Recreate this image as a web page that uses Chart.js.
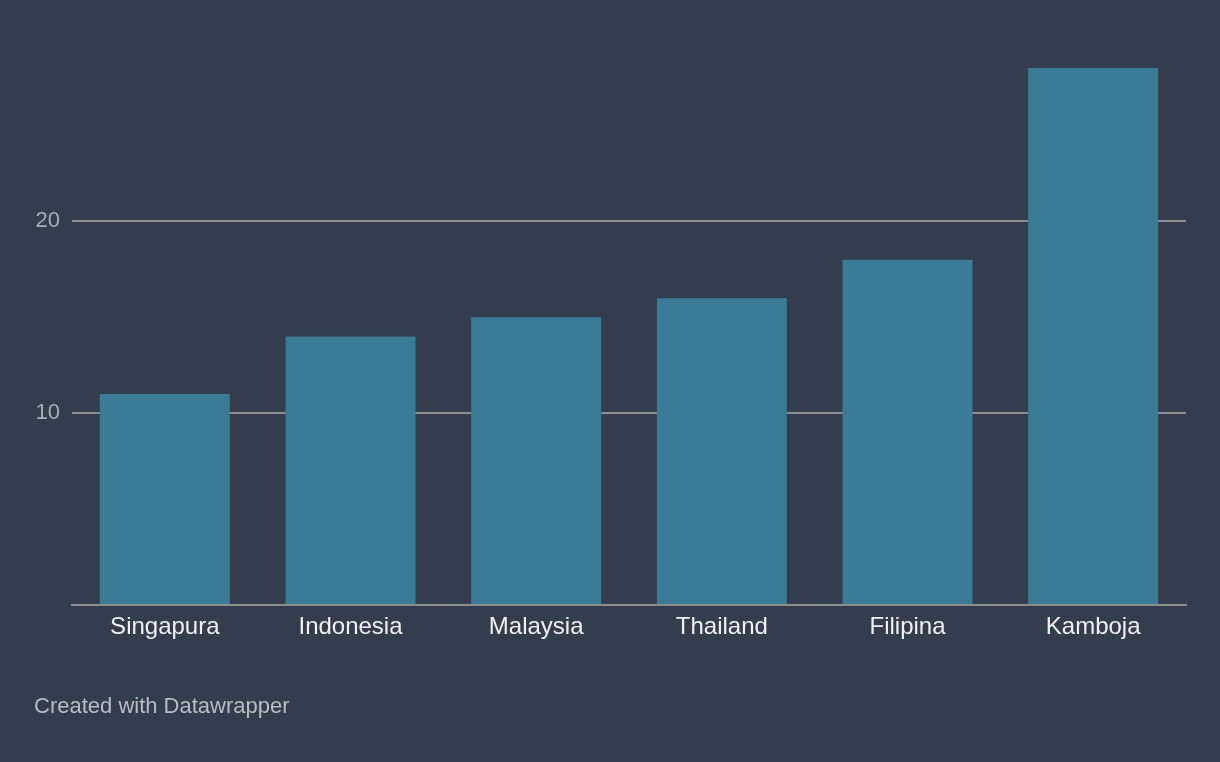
<!DOCTYPE html>
<html>
<head>
<meta charset="utf-8">
<script src="https://cdn.jsdelivr.net/npm/chart.js@4/dist/chart.umd.min.js"></script>
<style>
  html, body { margin: 0; padding: 0; background: #333d4d; }
  #wrap { position: relative; width: 1220px; height: 762px; }
  #footer {
    position: absolute; left: 34px; top: 693px;
    font-family: "Liberation Sans", Arial, sans-serif; font-size: 22px; color: #b9bcc1;
  }
</style>
</head>
<body>
<div id="wrap">
  <canvas id="chart" width="1220" height="762"></canvas>
  <div id="footer">Created with Datawrapper</div>
</div>
<script>
var countries = ['Singapura', 'Indonesia', 'Malaysia', 'Thailand', 'Filipina', 'Kamboja'];
var values = [11, 14, 15, 16, 18, 28];
var yTicks = [0, 10, 20];

(function () {
  var canvas = document.getElementById('chart');
  var font = '"Liberation Sans", Arial, sans-serif';

  new Chart(canvas, {
    type: 'bar',
    data: {
      labels: countries,
      datasets: [{
        data: values,
        backgroundColor: '#3a7b96',
        barPercentage: 0.7,
        categoryPercentage: 1,
      }],
    },
    options: {
      responsive: false,
      animation: false,
      layout: { padding: { top: 68, right: 34, left: 0, bottom: 0 } },
      plugins: { legend: { display: false }, tooltip: { enabled: false } },
      scales: {
        x: {
          grid: { display: false },
          border: { color: '#8c8c8c', width: 2 },
          ticks: { color: '#f0f0f0', font: { family: font, size: 24 }, padding: 0, maxRotation: 0 },
          afterFit: function (scale) { scale.height = 157; },
        },
        y: {
          min: 0,
          max: 28,
          border: { display: false },
          grid: { color: '#8c8c8c', lineWidth: 2, drawTicks: false },
          ticks: {
            color: '#a9acb0',
            font: { family: font, size: 22, lineHeight: 1.0 },
            padding: 12,
            callback: function (v) { return v === 0 ? '' : v; },
          },
          afterBuildTicks: function (scale) {
            scale.ticks = yTicks.map(function (v) { return { value: v }; });
          },
          afterFit: function (scale) { scale.width = 72; },
        },
      },
    },
  });
})();
</script>
</body>
</html>
